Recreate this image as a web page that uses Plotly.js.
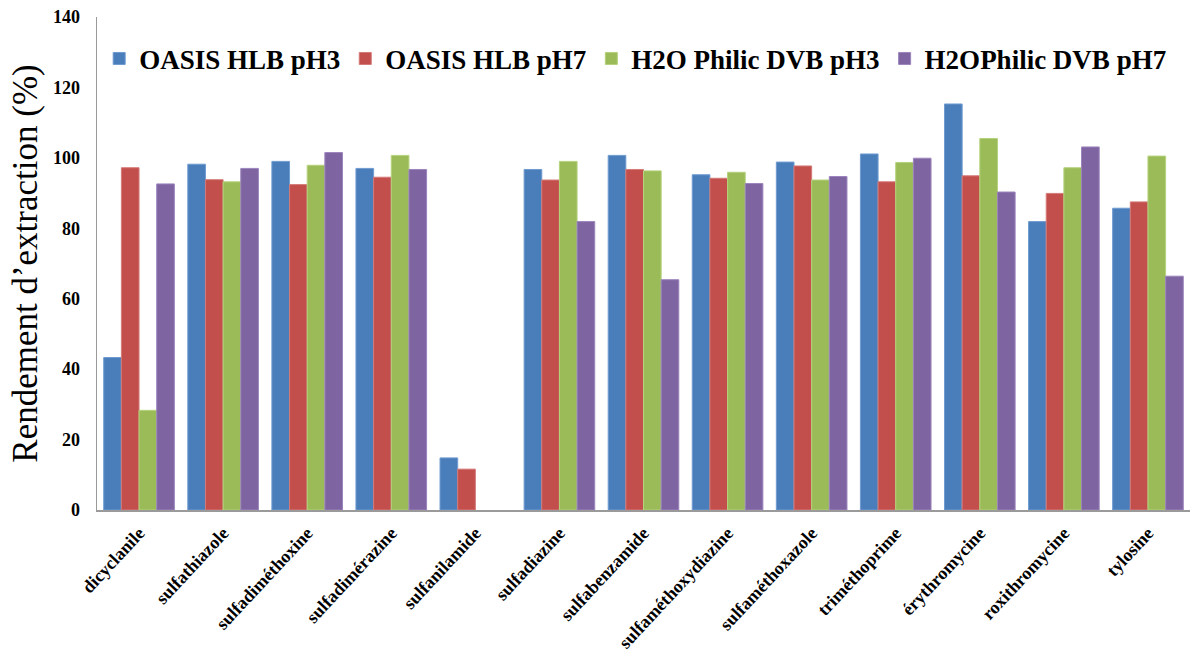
<!DOCTYPE html>
<html>
<head>
<meta charset="utf-8">
<script src="https://cdn.plot.ly/plotly-3.0.1.min.js"></script>
<style>
html,body{margin:0;padding:0;background:#fff;}
#chart{width:1197px;height:662px;}
</style>
</head>
<body>
<div id="chart"></div>
<script>
const categories = ["dicyclanile","sulfathiazole","sulfadiméthoxine","sulfadimérazine","sulfanilamide","sulfadiazine","sulfabenzamide","sulfaméthoxydiazine","sulfaméthoxazole","triméthoprime","érythromycine","roxithromycine","tylosine"];
const seriesNames = ["OASIS HLB pH3","OASIS HLB pH7","H2O Philic DVB pH3","H2OPhilic DVB pH7"];
const oasisPH3 = [43.3, 98.2, 99.0, 97.0, 14.8, 96.7, 100.7, 95.2, 98.8, 101.1, 115.3, 81.9, 85.7];
const oasisPH7 = [97.2, 93.8, 92.4, 94.5, 11.6, 93.7, 96.7, 94.2, 97.7, 93.2, 94.9, 89.9, 87.5];
const philicPH3 = [28.3, 93.2, 97.9, 100.7, null, 99.0, 96.3, 95.9, 93.7, 98.7, 105.5, 97.2, 100.5];
const philicPH7 = [92.6, 97.0, 101.5, 96.7, null, 81.9, 65.4, 92.7, 94.7, 99.9, 90.3, 103.1, 66.4];
const yTicks = [0, 20, 40, 60, 80, 100, 120, 140];

const serif = "Liberation Serif, Times New Roman, serif";
const colors = ["#4A7EBB","#C24F4C","#9BBB59","#7F64A2"];
const borders = ["#6f9bd0","#d47a78","#b5d27c","#9c85bd"];
const allSeries = [oasisPH3, oasisPH7, philicPH3, philicPH7];

const traces = allSeries.map((vals, i) => ({
  type: "bar",
  name: seriesNames[i],
  x: categories,
  y: vals,
  marker: {color: colors[i], line: {color: borders[i], width: 1}},
  hoverinfo: "x+y+name"
}));

const layout = {
  width: 1197,
  height: 662,
  paper_bgcolor: "#ffffff",
  plot_bgcolor: "#ffffff",
  margin: {l: 97, r: 7, t: 17, b: 152},
  barmode: "group",
  bargap: 0.16,
  bargroupgap: 0,
  font: {family: serif, color: "#000"},
  showlegend: true,
  legend: {
    orientation: "h",
    x: 0.002,
    xanchor: "left",
    y: 0.915,
    yanchor: "middle",
    font: {family: serif, size: 27, color: "#000", weight: 700},
    itemwidth: 30,
    tracegroupgap: 0,
    bgcolor: "rgba(0,0,0,0)"
  },
  xaxis: {
    type: "category",
    tickangle: -47,
    tickfont: {family: serif, size: 18, color: "#000", weight: 700},
    showline: true,
    linecolor: "#9a9a9a",
    linewidth: 1.5,
    ticks: "",
    ticklabelstandoff: 4,
    showgrid: false,
    zeroline: false
  },
  yaxis: {
    range: [0, 140],
    tickvals: yTicks,
    ticktext: yTicks.map(String),
    tickfont: {family: serif, size: 18, color: "#000", weight: 700},
    showline: true,
    linecolor: "#9a9a9a",
    linewidth: 1.5,
    ticks: "",
    ticklabelstandoff: 12,
    showgrid: false,
    zeroline: false,
    title: {
      text: "Rendement d’extraction (%)",
      font: {family: serif, size: 35, color: "#000"},
      standoff: 4
    }
  }
};

Plotly.newPlot("chart", traces, layout, {displayModeBar: false, staticPlot: true});
</script>
</body>
</html>
